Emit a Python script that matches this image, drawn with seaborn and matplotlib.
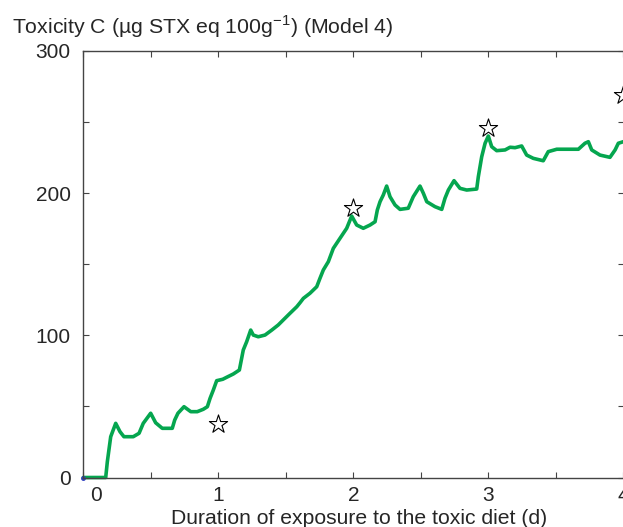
import numpy as np
import pandas as pd
import matplotlib
matplotlib.use("Agg")
import matplotlib.pyplot as plt
import matplotlib.transforms as mtransforms
from matplotlib.ticker import MultipleLocator
import seaborn as sns

sns.set_style("ticks")
plt.rcParams['font.family'] = ['Liberation Sans', 'DejaVu Sans']

# model curve (days, toxicity)
days = [0.0, 0.166, 0.178, 0.203, 0.240, 0.272, 0.301, 0.370, 0.413, 0.444,
        0.499, 0.536, 0.585, 0.659, 0.677, 0.701, 0.746, 0.796, 0.844, 0.889,
        0.919, 0.939, 0.963, 0.988, 1.033, 1.062, 1.111, 1.156, 1.185, 1.210,
        1.240, 1.259, 1.296, 1.346, 1.396, 1.444, 1.481, 1.531, 1.581, 1.605,
        1.630, 1.679, 1.729, 1.753, 1.778, 1.815, 1.852, 1.901, 1.951, 1.988,
        2.025, 2.074, 2.124, 2.161, 2.178, 2.198, 2.222, 2.247, 2.272, 2.309,
        2.346, 2.407, 2.444, 2.494, 2.519, 2.544, 2.605, 2.655, 2.679, 2.704,
        2.746, 2.790, 2.840, 2.914, 2.926, 2.951, 2.976, 3.000, 3.025, 3.062,
        3.124, 3.161, 3.198, 3.247, 3.284, 3.333, 3.407, 3.444, 3.507, 3.667,
        3.716, 3.741, 3.766, 3.827, 3.901, 3.939, 3.963, 4.000, 4.050]
toxicity = [0.0, 0.0, 11.1, 28.7, 38.1, 32.2, 28.7, 28.7, 31.1, 38.1,
            45.2, 38.5, 34.6, 34.6, 40.4, 45.2, 49.8, 46.3, 46.3, 48.0,
            49.8, 55.7, 61.5, 68.1, 69.1, 70.5, 72.8, 75.6, 89.7, 95.5,
            103.7, 100.2, 99.0, 100.2, 103.7, 107.3, 110.8, 115.5, 120.1, 122.9,
            126.0, 129.6, 134.2, 140.1, 146.0, 151.8, 161.2, 168.2, 175.3, 183.9,
            177.6, 175.3, 177.6, 179.9, 188.2, 194.0, 198.7, 205.0, 197.5, 191.7,
            188.6, 189.4, 197.5, 205.0, 199.9, 194.0, 190.5, 188.6, 196.4, 202.2,
            208.8, 203.4, 202.2, 202.9, 211.6, 225.6, 235.1, 240.2, 232.7, 229.9,
            230.4, 232.3, 232.0, 233.2, 226.8, 224.5, 222.8, 229.2, 230.9, 230.9,
            235.1, 236.2, 230.4, 226.8, 225.2, 230.4, 235.1, 236.2, 236.2]

# observed values (stars)
obs_days = [1, 2, 3, 4]
obs_tox = [37.6, 189.6, 245.8, 269.0]

curve = pd.DataFrame({"day": days, "tox": toxicity})
obs = pd.DataFrame({"day": obs_days, "tox": obs_tox})

fig = plt.figure(figsize=(6.23, 5.27), dpi=100)
ax = fig.add_axes([83.3 / 623, 49.5 / 527, (624 - 83.3) / 623, 426.5 / 527])

sns.lineplot(data=curve, x="day", y="tox", ax=ax, color="#05a64f",
             linewidth=2.6, sort=False, estimator=None, clip_on=False)
ax.plot([0], [0], marker="o", ms=2.5, color="#3040c0", clip_on=False)
sns.scatterplot(data=obs, x="day", y="tox", ax=ax, marker="*", s=190,
                facecolor="white", edgecolor="black", linewidth=0.8,
                zorder=5, clip_on=False)

ax.set_xlim(0, 4.005)
ax.set_ylim(0, 300)
ax.set_xticks([0, 1, 2, 3, 4])
ax.set_yticks([0, 100, 200, 300])
ax.xaxis.set_minor_locator(MultipleLocator(0.5))
ax.yaxis.set_minor_locator(MultipleLocator(50))
ax.tick_params(which="both", direction="in", top=True, right=True,
               length=4, width=0.8, color="#444444", labelsize=15)
ax.tick_params(axis="x", pad=6)
ax.tick_params(axis="y", pad=9)
for s in ax.spines.values():
    s.set_linewidth(1.0)
    s.set_color("#444444")

# the 0 on the x axis sits a little right of the spine
off = mtransforms.ScaledTranslation(12.5 / 100, 0, fig.dpi_scale_trans)
ax.get_xticklabels()[0].set_transform(ax.get_xticklabels()[0].get_transform() + off)

ax.set_xlabel("Duration of exposure to the toxic diet (d)", fontsize=15.2)
ax.xaxis.set_label_coords(0.51, -0.073)
ax.set_ylabel("Toxicity C (µg STX eq 100g$^{\\mathregular{-1}}$) (Model 4)",
              fontsize=15.3, rotation=0, ha="left", va="center")
ax.yaxis.set_label_coords(-0.132, 1.056)

fig.savefig("out.png", dpi=100)
